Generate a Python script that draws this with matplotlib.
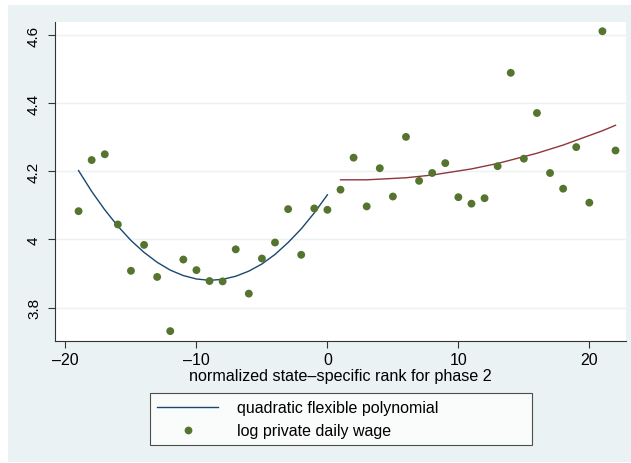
"""Regression discontinuity plot: log private daily wage by normalized rank."""

import matplotlib
matplotlib.use("Agg")
import matplotlib.pyplot as plt
from matplotlib.lines import Line2D
from matplotlib.patches import Rectangle

plt.rcParams["font.family"] = ["Liberation Sans", "DejaVu Sans"]

# ── Data ─────────────────────────────────────────────────────────────────────

RANK = [-19, -18, -17, -16, -15, -14, -13, -12, -11, -10,
        -9, -8, -7, -6, -5, -4, -3, -2, -1, 0,
        1, 2, 3, 4, 5, 6, 7, 8, 9, 10, 11,
        12, 13, 14, 15, 16, 17, 18, 19, 20, 21, 22]
LOG_WAGE = [4.083, 4.233, 4.250, 4.044, 3.908, 3.984, 3.890, 3.731, 3.941, 3.910,
            3.878, 3.877, 3.971, 3.841, 3.944, 3.991, 4.089, 3.955, 4.091, 4.087,
            4.146, 4.240, 4.097, 4.209, 4.126, 4.301, 4.172, 4.195, 4.224, 4.124, 4.105,
            4.121, 4.215, 4.489, 4.237, 4.371, 4.195, 4.149, 4.271, 4.108, 4.611, 4.261]

FIT_LEFT_X = [-19, -18, -17, -16, -15, -14, -13, -12, -11, -10,
              -9, -8, -7, -6, -5, -4, -3, -2, -1, 0]
FIT_LEFT_Y = [4.202, 4.141, 4.087, 4.039, 3.997, 3.962, 3.933, 3.910, 3.894, 3.884,
              3.880, 3.883, 3.892, 3.907, 3.928, 3.956, 3.991, 4.031, 4.078, 4.131]

FIT_RIGHT_X = [1, 2, 3, 4, 5, 6, 7, 8, 9, 10, 11,
               12, 13, 14, 15, 16, 17, 18, 19, 20, 21, 22]
FIT_RIGHT_Y = [4.175, 4.175, 4.175, 4.177, 4.179, 4.181, 4.185, 4.189, 4.195, 4.201, 4.207,
               4.215, 4.223, 4.233, 4.243, 4.253, 4.265, 4.277, 4.291, 4.305, 4.319, 4.335]

X_TICKS = [-20, -10, 0, 10, 20]
Y_TICKS = [3.8, 4.0, 4.2, 4.4, 4.6]
Y_TICK_LABELS = ["3.8", "4", "4.2", "4.4", "4.6"]

# ── Styling (Stata s2color look) ─────────────────────────────────────────────

BG     = "#eaf2f3"
NAVY   = "#1a476f"
MAROON = "#90353b"
GREEN  = "#55752f"

W, H = 631, 464
fig = plt.figure(figsize=(W / 100, H / 100), dpi=100)
fig.patch.set_facecolor("white")
fig.patches.append(Rectangle((8 / W, 1 / H), 1, 1 - 7 / H, transform=fig.transFigure,
                             facecolor=BG, edgecolor="none", zorder=-10))

ax = fig.add_axes([55 / W, 1 - 342 / H, (626 - 55) / W, (342 - 22.7) / H])
ax.set_facecolor("white")

ax.plot(FIT_LEFT_X, FIT_LEFT_Y, color=NAVY, lw=1.0, zorder=3)
ax.plot(FIT_RIGHT_X, FIT_RIGHT_Y, color=MAROON, lw=1.0, zorder=3)
ax.scatter(RANK, LOG_WAGE, s=32, color=GREEN, edgecolors="none", zorder=4)

ax.set_xlim(-20.8, 22.8)
ax.set_ylim(3.702, 4.639)
ax.set_xticks(X_TICKS)
ax.set_xticklabels([str(t).replace("-", "\u2013") for t in X_TICKS], fontsize=11.5)
ax.set_yticks(Y_TICKS)
ax.set_yticklabels(Y_TICK_LABELS, fontsize=11, rotation=90, va="center")
ax.tick_params(axis="both", direction="out", length=5, width=0.8, color="#333333")
ax.tick_params(axis="x", pad=3)
ax.tick_params(axis="y", pad=5)
ax.grid(axis="y", color=BG, lw=1.0)
ax.set_axisbelow(True)
for side in ("top", "right"):
    ax.spines[side].set_visible(False)
for side in ("left", "bottom"):
    ax.spines[side].set_color("#333333")
    ax.spines[side].set_linewidth(0.8)

ax.set_xlabel("normalized state\u2013specific rank for phase 2", fontsize=11.6, labelpad=1)

# Stata-style wide legend box below the axis
handles = [
    Line2D([], [], color=NAVY, lw=1.0),
    Line2D([], [], color=GREEN, marker="o", ls="none", markersize=5.6, markeredgewidth=0),
]
leg = fig.legend(handles, ["quadratic flexible polynomial", "log private daily wage"],
                 loc="upper left", bbox_to_anchor=(150 / W, 1 - 446 / H, 382 / W, 52 / H),
                 mode="expand", fontsize=11.5, frameon=True, fancybox=False,
                 handlelength=3.8, handletextpad=1.2, borderpad=0.45,
                 labelspacing=0.5, borderaxespad=0)
leg.get_frame().set_edgecolor("#222222")
leg.get_frame().set_linewidth(0.8)

fig.savefig("out.png", dpi=100, facecolor=fig.get_facecolor())
